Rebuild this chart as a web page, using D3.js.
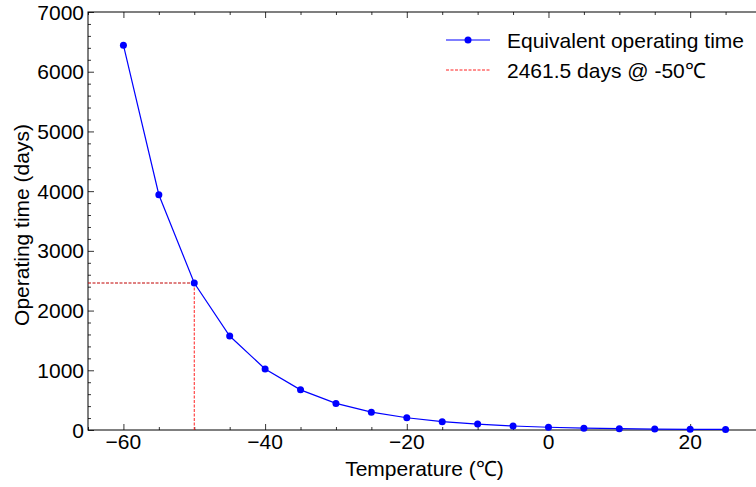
<!DOCTYPE html>
<html>
<head>
<meta charset="utf-8">
<script src="https://cdn.jsdelivr.net/npm/d3@7"></script>
<style>
  body { margin: 0; background: #fff; }
  svg { display: block; font-family: "Liberation Sans", Arial, sans-serif; }
</style>
</head>
<body>
<svg id="chart" width="756" height="487"></svg>
<script>
// data
const temps = [-60, -55, -50, -45, -40, -35, -30, -25, -20, -15, -10, -5, 0, 5, 10, 15, 20, 25];
const days  = [6445, 3940, 2461.5, 1574, 1022, 672, 445, 298, 205, 139, 100, 67, 46, 30, 22, 16, 12, 9];
const refTemp = -50;
const refDays = 2461.5;
const xTicks = [-60, -40, -20, 0, 20];
const yTicks = [0, 1000, 2000, 3000, 4000, 5000, 6000, 7000];
const legendLabels = ["Equivalent operating time", "2461.5 days @ -50\u2103"];

const margin = {left: 88, top: 12, right: 0, bottom: 57};
const width = 756, height = 487;
const plotW = 761 - margin.left;          // right spine falls just outside the frame
const plotH = height - margin.top - margin.bottom;
const fs = 21;

const svg = d3.select("#chart");
const g = svg.append("g").attr("transform", `translate(${margin.left},${margin.top})`);

const x = d3.scaleLinear().domain([-65, 30]).range([0, plotW]);
const y = d3.scaleLinear().domain([0, 7000]).range([plotH, 0]);

const fmtX = d => d < 0 ? "\u2212" + Math.abs(d) : String(d);

/* ---------- axes (ticks point inward) ---------- */
function minorAxis(axis, scale, vals) {
    return axis(scale).tickValues(vals).tickSize(3).tickFormat("");
}
const xMinor = d3.range(-65, 31, 5).filter(v => !xTicks.includes(v));
const yMinor = d3.range(0, 7001, 200).filter(v => !yTicks.includes(v));

g.append("g").attr("transform", `translate(0,${plotH})`)
  .call(d3.axisTop(x).tickValues(xTicks).tickSize(6).tickFormat(""));
g.append("g").attr("transform", `translate(0,${plotH})`)
  .call(minorAxis(d3.axisTop, x, xMinor));
g.append("g")
  .call(d3.axisBottom(x).tickValues(xTicks).tickSize(6).tickFormat(""));
g.append("g")
  .call(minorAxis(d3.axisBottom, x, xMinor));
g.append("g")
  .call(d3.axisRight(y).tickValues(yTicks).tickSize(6).tickFormat(""));
g.append("g")
  .call(minorAxis(d3.axisRight, y, yMinor));

// tick labels
g.append("g").selectAll("text").data(xTicks).join("text")
  .attr("x", d => x(d)).attr("y", plotH + 19)
  .attr("text-anchor", "middle").attr("font-size", fs)
  .text(fmtX);
g.append("g").selectAll("text").data(yTicks).join("text")
  .attr("x", -4).attr("y", d => y(d)).attr("dy", "0.36em")
  .attr("text-anchor", "end").attr("font-size", fs)
  .text(d => d);

g.selectAll(".domain").remove();
g.selectAll(".tick line").attr("stroke", "#000").attr("stroke-width", 0.8);

// frame
g.append("rect").attr("width", plotW).attr("height", plotH)
  .attr("fill", "none").attr("stroke", "#000").attr("stroke-width", 1);

/* ---------- reference lines ---------- */
g.append("line")
  .attr("x1", x(refTemp)).attr("x2", x(refTemp))
  .attr("y1", y(0)).attr("y2", y(refDays))
  .attr("stroke", "#ff2020").attr("stroke-width", 1).attr("stroke-dasharray", "3,1.5");
g.append("line")
  .attr("x1", 0).attr("x2", x(refTemp))
  .attr("y1", y(refDays)).attr("y2", y(refDays))
  .attr("stroke", "#c00000").attr("stroke-width", 1).attr("stroke-dasharray", "3,1.5");

/* ---------- series ---------- */
const pts = temps.map((t, i) => [t, days[i]]);
g.append("path").datum(pts)
  .attr("fill", "none").attr("stroke", "#0000ff").attr("stroke-width", 1.2)
  .attr("d", d3.line().x(d => x(d[0])).y(d => y(d[1])));
g.append("g").selectAll("circle").data(pts).join("circle")
  .attr("cx", d => x(d[0])).attr("cy", d => y(d[1])).attr("r", 3.5)
  .attr("fill", "#0000ff");

/* ---------- axis titles ---------- */
svg.append("text")
  .attr("x", margin.left + plotW / 2).attr("y", 476)
  .attr("text-anchor", "middle").attr("font-size", fs)
  .text("Temperature (\u2103)");
svg.append("text")
  .attr("transform", `translate(29,${margin.top + plotH / 2 + 4}) rotate(-90)`)
  .attr("text-anchor", "middle").attr("font-size", fs)
  .text("Operating time (days)");

/* ---------- legend ---------- */
const leg = svg.append("g").attr("transform", "translate(446,40)");
leg.append("line").attr("x1", 0).attr("x2", 44).attr("y1", 0).attr("y2", 0)
  .attr("stroke", "#0000ff").attr("stroke-width", 1.2);
leg.append("circle").attr("cx", 22).attr("cy", 0).attr("r", 3.5).attr("fill", "#0000ff");
leg.append("line").attr("x1", 0).attr("x2", 44).attr("y1", 30).attr("y2", 30)
  .attr("stroke", "#ff2020").attr("stroke-width", 1).attr("stroke-dasharray", "3,1.5");
leg.selectAll("text").data(legendLabels).join("text")
  .attr("x", 61).attr("y", (d, i) => i * 30).attr("dy", "0.36em")
  .attr("font-size", fs)
  .text(d => d);
</script>
</body>
</html>
